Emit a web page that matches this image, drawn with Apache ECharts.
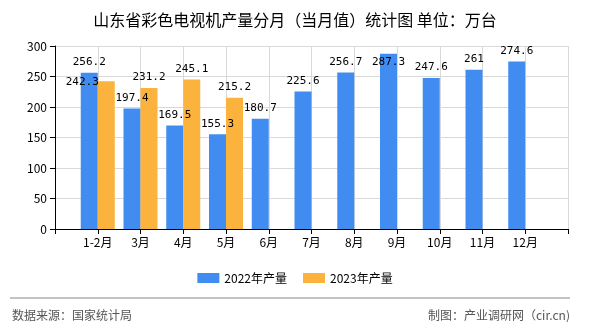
<!DOCTYPE html>
<html><head><meta charset="utf-8">
<script src="https://cdn.jsdelivr.net/npm/echarts@6/dist/echarts.min.js"></script>
<style>html,body{margin:0;padding:0;background:#fff}#c{width:590px;height:330px}</style>
</head><body><div id="c"></div>
<script>
const titleText = '山东省彩色电视机产量分月（当月值）统计图 单位：万台';
const categories = ['1-2月','3月','4月','5月','6月','7月','8月','9月','10月','11月','12月'];
const output2022 = [256.2,197.4,169.5,155.3,180.7,225.6,256.7,287.3,247.6,261,274.6];
const output2023 = [242.3,231.2,245.1,215.2];
const seriesNames = ['2022年产量','2023年产量'];
const yMin = 0, yMax = 300, yStep = 50;
const sourceText = '数据来源：国家统计局';
const creditText = '制图：产业调研网（cir.cn)';

// label nudges to mimic the reference's label placement (style only)
const labelNudge2022 = {7: [0, 19]};
const labelNudge2023 = {0: [-24, 11]};

const FONT = '"Noto Sans CJK SC", "Noto Sans", sans-serif';
const MONO = '"DejaVu Sans Mono", "Liberation Mono", monospace';

function buildData(values, nudges) {
  const out = [null];
  values.forEach((v, i) => {
    if (nudges[i]) out.push({value: v, label: {offset: nudges[i]}});
    else out.push(v);
  });
  return out;
}

const chart = echarts.init(document.getElementById('c'), null, {renderer: 'canvas'});
const barLabel = {show: true, position: 'top', distance: 5, color: '#000', fontSize: 11, fontFamily: MONO};

chart.setOption({
  animation: false,
  textStyle: {fontFamily: FONT},
  title: {
    text: titleText, left: 'center', top: 7,
    textStyle: {fontSize: 16, fontWeight: 'normal', color: '#000', fontFamily: FONT}
  },
  legend: {
    data: seriesNames, left: 'center', top: 267,
    itemWidth: 22, itemHeight: 10, itemGap: 16, icon: 'rect',
    textStyle: {fontSize: 12, color: '#000', fontFamily: FONT}
  },
  grid: {left: 55, right: 22, top: 46, bottom: 101, containLabel: false},
  xAxis: {
    type: 'category',
    boundaryGap: false,
    data: [''].concat(categories, ['']),
    axisLine: {show: true, lineStyle: {color: '#000', width: 1}},
    axisTick: {show: true, length: 5, interval: 0, lineStyle: {color: '#000'}},
    splitLine: {show: true, interval: 0, lineStyle: {color: '#d9d9d9', width: 1}},
    axisLabel: {interval: 0, margin: 7, fontSize: 12, color: '#000', fontFamily: FONT}
  },
  yAxis: {
    type: 'value', min: yMin, max: yMax, interval: yStep,
    axisLine: {show: true, lineStyle: {color: '#000', width: 1}},
    axisTick: {show: true, length: 5, lineStyle: {color: '#000'}},
    splitLine: {show: true, lineStyle: {color: '#d9d9d9', width: 1}},
    axisLabel: {margin: 8, fontSize: 12, color: '#000', fontFamily: FONT}
  },
  series: [
    {name: seriesNames[0], type: 'bar', barWidth: 17, barGap: '0%',
     itemStyle: {color: '#418cf0'}, label: barLabel,
     data: buildData(output2022, labelNudge2022)},
    {name: seriesNames[1], type: 'bar', barWidth: 17, barGap: '0%',
     itemStyle: {color: '#fbb33e'}, label: barLabel,
     data: buildData(output2023, labelNudge2023)}
  ],
  graphic: [
    {type: 'line', shape: {x1: 10, y1: 298, x2: 570, y2: 298}, style: {stroke: '#888', lineWidth: 1}},
    {type: 'text', left: 12, top: 309, style: {text: sourceText, fill: '#555', font: '12px ' + FONT}},
    {type: 'text', right: 20, top: 309, style: {text: creditText, fill: '#555', font: '12px ' + FONT}}
  ]
});
</script></body></html>
